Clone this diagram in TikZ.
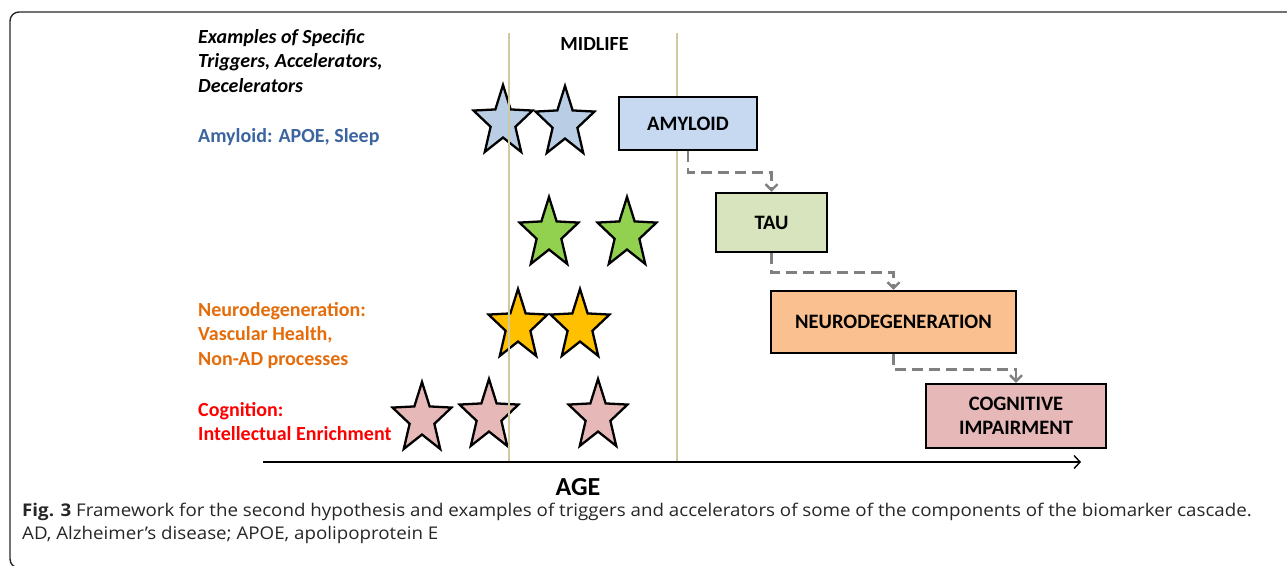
\documentclass[tikz,border=0pt]{standalone}
\usepackage{fontspec}
\setmainfont{Carlito}
\newfontfamily\capfont[FakeStretch=1.07]{Open Sans}
\usetikzlibrary{arrows.meta}
\definecolor{amyfill}{HTML}{C6D9F1}
\definecolor{taufill}{HTML}{D7E4BD}
\definecolor{neurofill}{HTML}{FAC090}
\definecolor{cogfill}{HTML}{E6B9B8}
\definecolor{amystar}{HTML}{B9CDE5}
\definecolor{taustar}{HTML}{92D050}
\definecolor{neurostar}{HTML}{FFC000}
\definecolor{amytext}{HTML}{3B64A0}
\definecolor{neurotext}{HTML}{E46C0A}
\definecolor{midcol}{HTML}{CFC8A0}
\newcommand{\bigtxt}{\fontsize{20}{24.5}\selectfont}

\begin{document}
\begin{tikzpicture}[x=1pt, y=-1pt,
		stage/.style={draw, line width=2.2pt, inner sep=0pt, align=center,
			font=\bfseries\fontsize{20.5}{24}\selectfont},
		cascade/.style={draw=gray, line width=2.8pt, dash pattern=on 11pt off 6pt,
			-{Straight Barb[length=6pt, width=12pt, line width=2.4pt]}},
		example/.style={anchor=north west, inner sep=0pt, align=left, font=\bfseries\bigtxt},
		midline/.style={midcol, line width=1.5pt},
		pics/trigstar/.style={code={
			\draw[line width=2.3pt, line join=miter, fill=#1] (-90:31 and 37)
			\foreach \k/\r in {1/0.42,2/1,3/0.42,4/1,5/0.42,6/1,7/0.42,8/1,9/0.42}{
				-- ({-90+36*\k}:{31*\r} and {37*\r}) } -- cycle;
		}}]
		\useasboundingbox (0,0) rectangle (1287,565);
		\clip (0,0) rectangle (1287,565);
		\draw[line width=1.4pt, black!85, rounded corners=9pt] (1300,12) -- (10,12) -- (10,568) -- (1300,568);

		% texts on the left
		\node[example] (ex) at (198,29) {\itshape Examples of Specific\\ \itshape Triggers, Accelerators,\\ \itshape Decelerators};
		\node[example, text=amytext] (amyex) at (198,128) {Amyloid: APOE, Sleep};
		\node[example, text=neurotext] (neuroex) at (198,302) {Neurodegeneration:\\Vascular Health,\\Non-AD processes};
		\node[example, text=red] (cogex) at (198,402) {Cognition:\\Intellectual Enrichment};

		% stars
		\pic (sa1) at (503,122) {trigstar=amystar};
		\pic (sa2) at (565,123) {trigstar=amystar};
		\pic (st1) at (549,234) {trigstar=taustar};
		\pic (st2) at (627,234) {trigstar=taustar};
		\pic (sn1) at (518,326) {trigstar=neurostar};
		\pic (sn2) at (580,326) {trigstar=neurostar};
		\pic (sc1) at (422,419) {trigstar=cogfill};
		\pic (sc2) at (489,416) {trigstar=cogfill};
		\pic (sc3) at (598,416) {trigstar=cogfill};

		% midlife
		\draw[midline] (509,33) -- (509,462);
		\draw[midline] (677,33) -- (677,462);
		\node[font=\bfseries\fontsize{20}{24}\selectfont] (mid) at (594.5,44) {MIDLIFE};

		% cascade
		\node[stage, fill=amyfill, minimum width=138, minimum height=53] (amy) at (688,123.5) {AMYLOID};
		\node[stage, fill=taufill, minimum width=111, minimum height=59] (tau) at (771.5,222.5) {TAU};
		\node[stage, fill=neurofill, minimum width=245, minimum height=62] (neuro) at (893.5,322) {NEURODEGENERATION};
		\node[stage, fill=cogfill, minimum width=180, minimum height=64] (cog) at (1016,416) {COGNITIVE\\IMPAIRMENT};
		\draw[cascade] (amy.south) -- ++(0,21.5) -| (tau.north);
		\draw[cascade] (tau.south) -- ++(0,19.5) -| (neuro.north);
		\draw[cascade] (neuro.south) -- ++(0,15.5) -| (cog.north);

		% age axis
		\coordinate (a0) at (263,462);
		\coordinate (a1) at (1081,462);
		\draw[line width=1.6pt, -{Straight Barb[length=6pt, width=13pt, line width=1.4pt]}] (a0) -- (a1);
		\node[font=\bfseries\fontsize{26}{30}\selectfont] (age) at (578,487) {AGE};

		% caption
		\node[anchor=base west, inner sep=0pt, align=left, text=black!85,
			font=\capfont\fontsize{17.5}{23}\selectfont] (cap) at (22,539)
			{\textbf{Fig. 3} Framework for the second hypothesis and examples of triggers and accelerators of some of the components of the biomarker cascade.\\AD, Alzheimer’s disease; APOE, apolipoprotein E};
\end{tikzpicture}
\end{document}
